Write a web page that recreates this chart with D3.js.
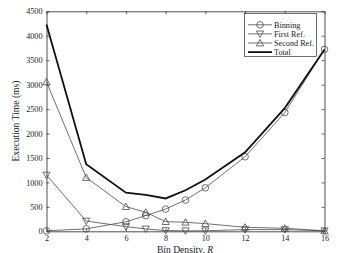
<!DOCTYPE html>
<html><head><meta charset="utf-8">
<script src="https://cdn.jsdelivr.net/npm/d3@7"></script>
<style>body{margin:0;background:#fff}svg{display:block}text{font-family:"Liberation Serif","DejaVu Serif",serif;}</style>
</head><body>
<svg id="c" width="359" height="253"></svg>
<script>
const binDensity = [2, 4, 6, 7, 8, 9, 10, 12, 14, 16];
const binning    = [10, 50, 195, 320, 455, 640, 890, 1525, 2430, 3720];
const firstRef   = [1150, 210, 95, 48, 15, 10, 10, 35, 35, 10];
const secondRef  = [3055, 1100, 505, 388, 198, 185, 157, 82, 62, 10];
const total      = [4230, 1370, 790, 745, 672, 840, 1060, 1615, 2520, 3720];
const xTicks = [2, 4, 6, 8, 10, 12, 14, 16];
const yTicks = [0, 500, 1000, 1500, 2000, 2500, 3000, 3500, 4000, 4500];
const seriesNames = ["Binning", "First Ref.", "Second Ref.", "Total"];

const svg = d3.select("#c");
const L = 46.5, R = 324.5, T = 11.3, B = 231.3;
const x = d3.scaleLinear().domain([2, 16]).range([L, R]);
const y = d3.scaleLinear().domain([0, 4500]).range([B, T]);
const FONT = '"Liberation Serif", serif';

const g = svg.append("g");
g.append("g").attr("transform", `translate(0,${B})`).call(d3.axisBottom(x).tickValues(xTicks).tickSizeInner(-3).tickSizeOuter(0).tickPadding(4).tickFormat(d3.format("d")));
g.append("g").attr("transform", `translate(0,${T})`).call(d3.axisTop(x).tickValues(xTicks).tickSizeInner(-3).tickSizeOuter(0).tickFormat(""));
g.append("g").attr("transform", `translate(${L},0)`).call(d3.axisLeft(y).tickValues(yTicks).tickSizeInner(-3).tickSizeOuter(0).tickPadding(4).tickFormat(d3.format("d")));
g.append("g").attr("transform", `translate(${R},0)`).call(d3.axisRight(y).tickValues(yTicks).tickSizeInner(-3).tickSizeOuter(0).tickFormat(""));
g.selectAll(".domain").attr("stroke", "#222").attr("stroke-width", 0.8);
g.selectAll(".tick line").attr("stroke", "#222").attr("stroke-width", 0.7);
g.selectAll(".tick text").attr("font-size", 8.2).attr("fill", "#222").style("font-family", FONT);

const line = d3.line().x((d, i) => x(binDensity[i])).y(d => y(d));
const grey = "#4a4a4a";
function marker(sel, type, cx, cy) {
  if (type === "circle") sel.append("circle").attr("cx", cx).attr("cy", cy).attr("r", 3.3).attr("fill", "none").attr("stroke", grey).attr("stroke-width", 0.8);
  else {
    const s = 3.6;
    const pts = type === "down"
      ? [[cx - s, cy - s * 0.8], [cx + s, cy - s * 0.8], [cx, cy + s]]
      : [[cx - s, cy + s * 0.8], [cx + s, cy + s * 0.8], [cx, cy - s]];
    sel.append("polygon").attr("points", pts.map(p => p.join(",")).join(" ")).attr("fill", "none").attr("stroke", grey).attr("stroke-width", 0.8);
  }
}
const defs = [[binning, "circle"], [firstRef, "down"], [secondRef, "up"]];
defs.forEach(([vals, type]) => {
  g.append("path").attr("d", line(vals)).attr("fill", "none").attr("stroke", grey).attr("stroke-width", 0.8);
  vals.forEach((v, i) => marker(g, type, x(binDensity[i]), y(v)));
});
g.append("path").attr("d", line(total)).attr("fill", "none").attr("stroke", "#111").attr("stroke-width", 1.8);

// legend
const lg = svg.append("g");
lg.append("rect").attr("x", 244.5).attr("y", 13.5).attr("width", 72).attr("height", 43).attr("fill", "#fff").attr("stroke", "#333").attr("stroke-width", 0.7);
const types = ["circle", "down", "up", "total"];
types.forEach((t, i) => {
  const yy = 24.8 + i * 9.1;
  if (t === "total") lg.append("line").attr("x1", 248).attr("x2", 272).attr("y1", yy).attr("y2", yy).attr("stroke", "#111").attr("stroke-width", 1.8);
  else {
    lg.append("line").attr("x1", 248).attr("x2", 272).attr("y1", yy).attr("y2", yy).attr("stroke", grey).attr("stroke-width", 0.8);
    marker(lg, t, 260, yy);
  }
  lg.append("text").attr("x", 274).attr("y", yy + 2.7).attr("font-size", 8.2).attr("fill", "#222").text(seriesNames[i]);
});

// axis labels
svg.append("text").attr("transform", "translate(18.5,121) rotate(-90)").attr("text-anchor", "middle").attr("font-size", 9.6).attr("fill", "#222").text("Execution Time (ms)");
const xl = svg.append("text").attr("x", 185).attr("y", 252.5).attr("text-anchor", "middle").attr("font-size", 9.6).attr("fill", "#222");
xl.append("tspan").text("Bin Density, ");
xl.append("tspan").attr("font-style", "italic").text("R");
</script>
</body></html>
